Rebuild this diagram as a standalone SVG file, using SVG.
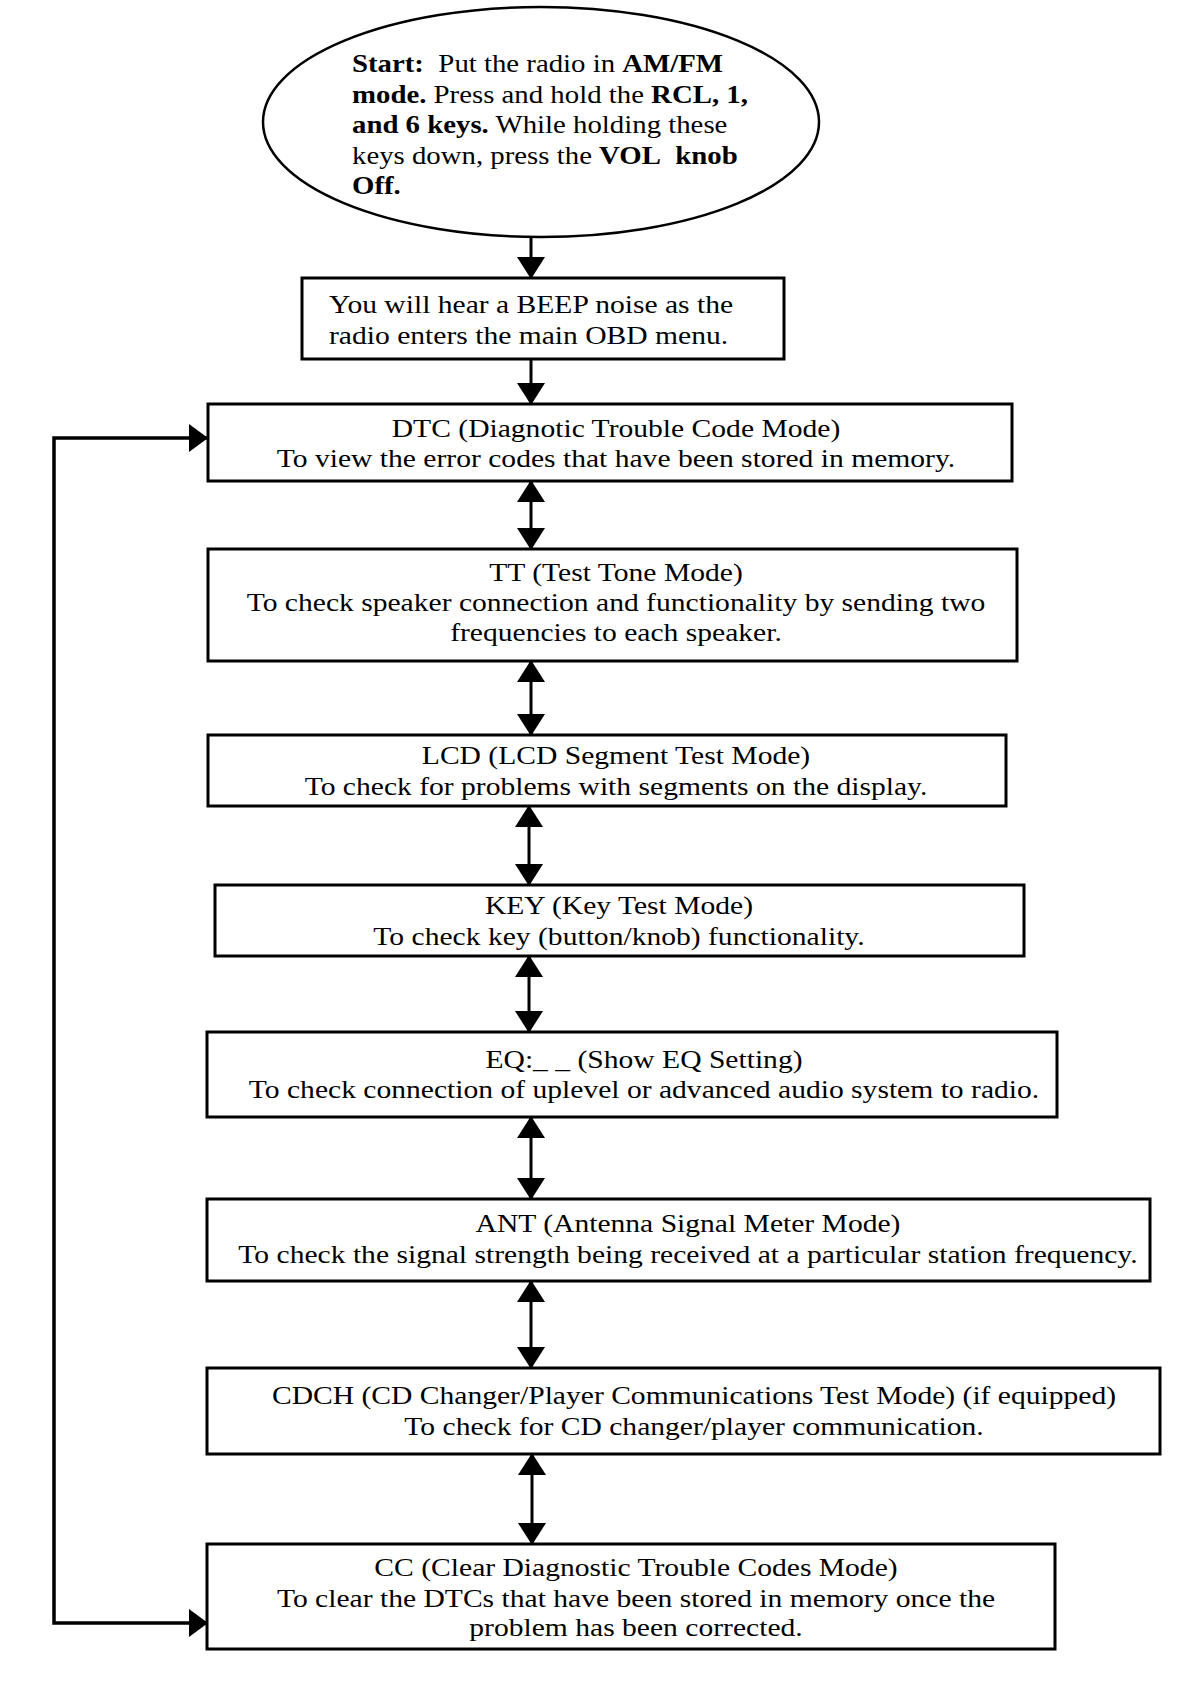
<svg xmlns="http://www.w3.org/2000/svg" width="1200" height="1686" viewBox="0 0 1200 1686">
<style>
.bg{fill:#fff}
.box{fill:#fff;stroke:#000;stroke-width:3}
.ell{fill:#fff;stroke:#000;stroke-width:2.5}
.t{font-family:"Liberation Serif","Times New Roman",serif;font-size:25.5px;fill:#000}
.c{text-anchor:middle}
.b{font-weight:bold}
.con{stroke:#000;stroke-width:3;fill:none}
.loop{stroke:#000;stroke-width:3.5;fill:none}
</style>
<defs>
<marker id="ah" viewBox="0 0 22 28" refX="21" refY="14" markerWidth="22" markerHeight="28" markerUnits="userSpaceOnUse" orient="auto-start-reverse"><path d="M0,0 L22,14 L0,28 z" fill="#000"/></marker>
<marker id="ahs" viewBox="0 0 19 28" refX="18" refY="14" markerWidth="19" markerHeight="28" markerUnits="userSpaceOnUse" orient="auto-start-reverse"><path d="M0,0 L19,14 L0,28 z" fill="#000"/></marker>
</defs>
<rect class="bg" x="0" y="0" width="1200" height="1686"/>

<g id="connectors">
<line class="con" x1="531" y1="237" x2="531" y2="278" marker-end="url(#ah)"/>
<line class="con" x1="531" y1="359" x2="531" y2="404" marker-end="url(#ah)"/>
<line class="con" x1="531" y1="481" x2="531" y2="549" marker-start="url(#ah)" marker-end="url(#ah)"/>
<line class="con" x1="531" y1="661" x2="531" y2="735" marker-start="url(#ah)" marker-end="url(#ah)"/>
<line class="con" x1="529" y1="806" x2="529" y2="885" marker-start="url(#ah)" marker-end="url(#ah)"/>
<line class="con" x1="529" y1="956" x2="529" y2="1032" marker-start="url(#ah)" marker-end="url(#ah)"/>
<line class="con" x1="531" y1="1117" x2="531" y2="1199" marker-start="url(#ah)" marker-end="url(#ah)"/>
<line class="con" x1="531" y1="1281" x2="531" y2="1368" marker-start="url(#ah)" marker-end="url(#ah)"/>
<line class="con" x1="532" y1="1454" x2="532" y2="1544" marker-start="url(#ah)" marker-end="url(#ah)"/>
<path class="loop" d="M207,438 H54 V1623 H207" marker-start="url(#ahs)" marker-end="url(#ahs)"/>
</g>

<g id="start">
<ellipse class="ell" cx="541" cy="122" rx="278" ry="115"/>
<g transform="translate(352,0) scale(1.13,1)">
<text class="t" x="0" y="72"><tspan class="b">Start:</tspan>&#160; Put the radio in <tspan class="b">AM/FM</tspan></text>
<text class="t" x="0" y="103"><tspan class="b">mode.</tspan> Press and hold the <tspan class="b">RCL, 1,</tspan></text>
<text class="t" x="0" y="133"><tspan class="b">and 6 keys.</tspan> While holding these</text>
<text class="t" x="0" y="164">keys down, press the <tspan class="b">VOL&#160; knob</tspan></text>
<text class="t" x="0" y="194"><tspan class="b">Off.</tspan></text>
</g>
</g>

<g id="beep">
<rect class="box" x="302" y="278" width="482" height="81"/>
<g transform="translate(329,0) scale(1.16,1)">
<text class="t" x="0" y="313">You will hear a BEEP noise as the</text>
<text class="t" x="0" y="344">radio enters the main OBD menu.</text>
</g>
</g>

<g id="dtc">
<rect class="box" x="208" y="404" width="804" height="77"/>
<g transform="translate(616,0) scale(1.16,1)">
<text class="t c" x="0" y="437">DTC (Diagnotic Trouble Code Mode)</text>
<text class="t c" x="0" y="467">To view the error codes that have been stored in memory.</text>
</g>
</g>

<g id="tt">
<rect class="box" x="208" y="549" width="809" height="112"/>
<g transform="translate(616,0) scale(1.16,1)">
<text class="t c" x="0" y="581">TT (Test Tone Mode)</text>
<text class="t c" x="0" y="611">To check speaker connection and functionality by sending two</text>
<text class="t c" x="0" y="641">frequencies to each speaker.</text>
</g>
</g>

<g id="lcd">
<rect class="box" x="208" y="735" width="798" height="71"/>
<g transform="translate(616,0) scale(1.16,1)">
<text class="t c" x="0" y="764">LCD (LCD Segment Test Mode)</text>
<text class="t c" x="0" y="795">To check for problems with segments on the display.</text>
</g>
</g>

<g id="key">
<rect class="box" x="215" y="885" width="809" height="71"/>
<g transform="translate(619,0) scale(1.16,1)">
<text class="t c" x="0" y="914">KEY (Key Test Mode)</text>
<text class="t c" x="0" y="945">To check key (button/knob) functionality.</text>
</g>
</g>

<g id="eq">
<rect class="box" x="207" y="1032" width="850" height="85"/>
<g transform="translate(644,0) scale(1.16,1)">
<text class="t c" x="0" y="1068">EQ:_ _ (Show EQ Setting)</text>
<text class="t c" x="0" y="1098">To check connection of uplevel or advanced audio system to radio.</text>
</g>
</g>

<g id="ant">
<rect class="box" x="207" y="1199" width="943" height="82"/>
<g transform="translate(688,0) scale(1.16,1)">
<text class="t c" x="0" y="1232">ANT (Antenna Signal Meter Mode)</text>
<text class="t c" x="0" y="1263">To check the signal strength being received at a particular station frequency.</text>
</g>
</g>

<g id="cdch">
<rect class="box" x="207" y="1368" width="953" height="86"/>
<g transform="translate(694,0) scale(1.16,1)">
<text class="t c" x="0" y="1404">CDCH (CD Changer/Player Communications Test Mode) (if equipped)</text>
<text class="t c" x="0" y="1435">To check for CD changer/player communication.</text>
</g>
</g>

<g id="cc">
<rect class="box" x="207" y="1544" width="848" height="105"/>
<g transform="translate(636,0) scale(1.16,1)">
<text class="t c" x="0" y="1576">CC (Clear Diagnostic Trouble Codes Mode)</text>
<text class="t c" x="0" y="1607">To clear the DTCs that have been stored in memory once the</text>
<text class="t c" x="0" y="1636">problem has been corrected.</text>
</g>
</g>
</svg>
